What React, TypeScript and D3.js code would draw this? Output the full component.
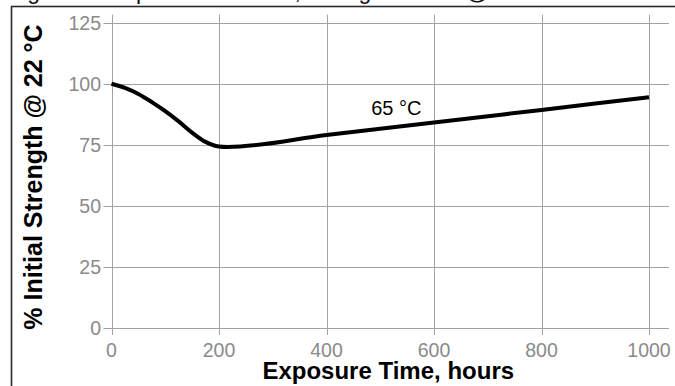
import * as d3 from "d3";
import { useEffect, useRef } from "react";

// curve: exposure hours vs % of initial strength
const hours = [0, 25, 50, 75, 100, 125, 150, 175, 200, 215, 400, 600, 800, 1000];
const strength = [100, 98.3, 95.8, 92.5, 88.8, 84.6, 80, 76.2, 74.3, 74.1, 79, 84.1, 89.3, 94.5];
const xTicks = [0, 200, 400, 600, 800, 1000];
const yTicks = [0, 25, 50, 75, 100, 125];
const seriesLabel = "65 °C";
const topNote = "Aged at temperature shown, strength tested @ 22 °C";
const yTitle = "% Initial Strength @ 22 °C";
const xTitle = "Exposure Time, hours";

export default function App() {
  const svgRef = useRef<SVGSVGElement>(null);

  useEffect(() => {
    const w = 675;
    const h = 386;
    const font = "Liberation Sans, Arial, sans-serif";
    const svg = d3.select(svgRef.current).attr("width", w).attr("height", h);
    svg.selectAll("*").remove();

    //scaling
    const xScale = d3.scaleLinear().domain([0, 1000]).range([111.5, 649]);
    const yScale = d3.scaleLinear().domain([0, 125]).range([328, 22.7]);

    // note cut off at the top
    svg
      .append("text")
      .attr("x", 12)
      .attr("y", -1)
      .attr("font-family", font)
      .attr("font-size", 23)
      .attr("fill", "#111")
      .text(topNote);

    // frame
    svg
      .append("rect")
      .attr("x", 11.5)
      .attr("y", 6.5)
      .attr("width", 700)
      .attr("height", 400)
      .attr("fill", "none")
      .attr("stroke", "#2a2a2a")
      .attr("stroke-width", 1.6);

    //grid
    const grid = svg.append("g").attr("stroke", "#a3a3a3").attr("stroke-width", 1);
    grid
      .selectAll(".hline")
      .data(yTicks)
      .join("line")
      .attr("x1", xScale(0) - 8)
      .attr("x2", xScale(1000) + 20)
      .attr("y1", (d) => Math.round(yScale(d)) + 0.5)
      .attr("y2", (d) => Math.round(yScale(d)) + 0.5);
    grid
      .selectAll(".vline")
      .data(xTicks)
      .join("line")
      .attr("y1", yScale(125) - 8)
      .attr("y2", yScale(0) + 7)
      .attr("x1", (d) => Math.round(xScale(d)) + 0.5)
      .attr("x2", (d) => Math.round(xScale(d)) + 0.5);

    //tick labels
    svg
      .append("g")
      .selectAll("text")
      .data(yTicks)
      .join("text")
      .attr("x", 101)
      .attr("y", (d) => yScale(d))
      .attr("dy", "0.36em")
      .attr("text-anchor", "end")
      .attr("font-family", font)
      .attr("font-size", 19.5)
      .attr("fill", "#8a8a8a")
      .text((d) => d);
    svg
      .append("g")
      .selectAll("text")
      .data(xTicks)
      .join("text")
      .attr("x", (d) => xScale(d))
      .attr("y", 357)
      .attr("text-anchor", "middle")
      .attr("font-family", font)
      .attr("font-size", 19.5)
      .attr("fill", "#8a8a8a")
      .text((d) => d);

    //titles
    svg
      .append("text")
      .attr("x", (xScale(0) + xScale(1000)) / 2 + 8)
      .attr("y", 379)
      .attr("text-anchor", "middle")
      .attr("font-family", font)
      .attr("font-weight", "bold")
      .attr("font-size", 24)
      .attr("fill", "#000")
      .text(xTitle);
    svg
      .append("text")
      .attr("transform", "translate(42, 177) rotate(-90)")
      .attr("text-anchor", "middle")
      .attr("font-family", font)
      .attr("font-weight", "bold")
      .attr("font-size", 25)
      .attr("fill", "#000")
      .text(yTitle);

    //curve
    const pts = hours.map((v, i) => [v, strength[i]] as [number, number]);
    const line = d3
      .line<[number, number]>()
      .x((d) => xScale(d[0]))
      .y((d) => yScale(d[1]))
      .curve(d3.curveMonotoneX);
    svg
      .append("path")
      .attr("d", line(pts))
      .attr("fill", "none")
      .attr("stroke", "#000")
      .attr("stroke-width", 4)
      .attr("stroke-linejoin", "round");

    svg
      .append("text")
      .attr("x", xScale(530))
      .attr("y", 115)
      .attr("text-anchor", "middle")
      .attr("font-family", font)
      .attr("font-size", 20)
      .attr("fill", "#000")
      .text(seriesLabel);
  }, []);

  return (
    <div>
      <svg ref={svgRef} style={{ position: "absolute", left: 0, top: 0, overflow: "hidden" }}></svg>
    </div>
  );
}
